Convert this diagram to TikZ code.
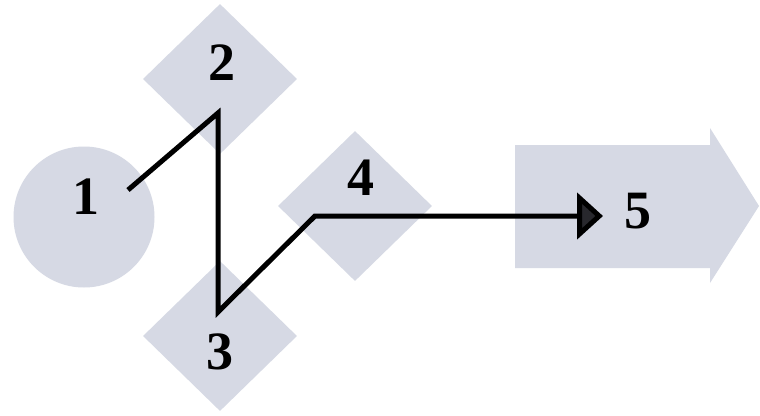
\documentclass[tikz,border=0pt]{standalone}
\usepackage{fontspec}
\setmainfont{Liberation Serif}
\usetikzlibrary{shapes.geometric,arrows.meta}
\definecolor{shapefill}{RGB}{214,217,228}
\definecolor{tipfill}{RGB}{40,40,45}
\tikzset{
  shapebox/.style={fill=shapefill,draw=none,inner sep=0pt},
  dia/.style={shapebox,diamond,minimum width=154pt,minimum height=150pt},
  lbl/.style={font=\fontsize{54}{54}\selectfont\bfseries,text=black,inner sep=0pt,text depth=0pt},
  conn/.style={draw=black,line width=5pt,line join=miter}
}
\begin{document}
\begin{tikzpicture}[x=1pt,y=-1pt]
\useasboundingbox (0,0) rectangle (760,415);
\fill[white] (0,0) rectangle (760,415);
% shapes
\node[shapebox,circle,minimum size=141pt] (n1) at (84,217) {};
\node[dia] (n2) at (220,79) {};
\node[dia] (n3) at (220,336) {};
\node[dia] (n4) at (355,206) {};
\fill[shapefill] (515,145) -- (710,145) -- (710,128) -- (759,206) -- (710,283) -- (710,268) -- (515,268) -- cycle;
\coordinate (n5) at (636,206);
% labels
\node[lbl] (t1) at (86,197) {1};
\node[lbl] (t2) at (222,63) {2};
\node[lbl] (t3) at (220,352) {3};
\node[lbl] (t4) at (361,178) {4};
\node[lbl] (t5) at (638,211) {5};
% connector vertices
\coordinate (c1) at (128,190);
\coordinate (c2) at (218,113);
\coordinate (c3) at (218,312);
\coordinate (c4) at (315,216);
\coordinate (c5) at (603,216);
\draw[conn,-{Triangle[length=26pt,width=46pt,fill=tipfill]}] (c1) -- (c2) -- (c3) -- (c4) -- (c5);
\end{tikzpicture}
\end{document}
